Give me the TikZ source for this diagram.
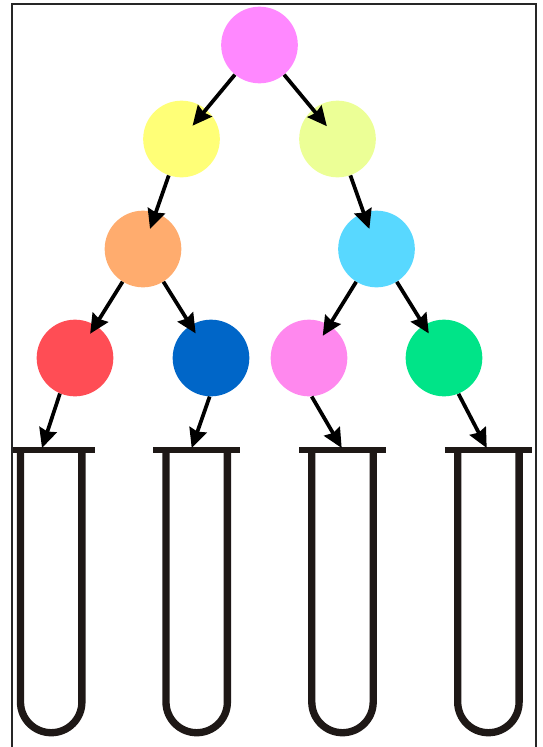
\documentclass[tikz,border=0pt]{standalone}
\usetikzlibrary{arrows.meta}
\definecolor{cTop}{RGB}{255,136,255}
\definecolor{cYel}{RGB}{255,255,119}
\definecolor{cLim}{RGB}{236,255,150}
\definecolor{cOra}{RGB}{255,172,110}
\definecolor{cCya}{RGB}{88,216,255}
\definecolor{cRed}{RGB}{255,77,85}
\definecolor{cBlu}{RGB}{0,102,200}
\definecolor{cPnk}{RGB}{255,136,238}
\definecolor{cGrn}{RGB}{0,228,136}
\definecolor{tubeclr}{RGB}{30,24,22}
\begin{document}
\begin{tikzpicture}[x=0.75pt,y=-0.75pt,
  ball/.style={circle,minimum size=57.5pt,inner sep=0pt,fill=#1},
  arr/.style={line width=2.8pt,-{Stealth[length=14.5pt 0 0,width=13.5pt 0 0,inset=1.5pt]}},
  tubewall/.style={line width=5.5pt,color=tubeclr},
  tubebar/.style={line width=5pt,color=tubeclr}]
\useasboundingbox (0,0) rectangle (543,747);
% frame
\draw[line width=1pt,color=black!85] (12,760) -- (12,4) -- (536,4) -- (536,760);
% balls
\node[ball=cTop] (top) at (259.5,45) {};
\node[ball=cYel] (yl) at (181.5,139) {};
\node[ball=cLim] (yr) at (337.5,139) {};
\node[ball=cOra] (or) at (143,249) {};
\node[ball=cCya] (cy) at (376.5,249) {};
\node[ball=cRed] (rd) at (75,358) {};
\node[ball=cBlu] (bl) at (211,358) {};
\node[ball=cPnk] (pk) at (309,358) {};
\node[ball=cGrn] (gr) at (444,358) {};
% tree arrows
\draw[arr,shorten >=-16pt] (top) -- (yl);
\draw[arr,shorten >=-16.5pt] (top) -- (yr);
\draw[arr,shorten >=-13pt] (yl) -- (or);
\draw[arr,shorten >=-13pt] (yr) -- (cy);
\draw[arr,shorten >=-7.5pt] (or) -- (rd);
\draw[arr,shorten >=-7.2pt] (or) -- (bl);
\draw[arr,shorten >=-9.4pt] (cy) -- (pk);
\draw[arr,shorten >=-7.3pt] (cy) -- (gr);
% tubes
\foreach \cx/\bl in {51.2/13.3, 196.7/153.2, 342.5/299, 488.4/444.9}{
  \draw[tubewall] (\cx-30.7,450) -- (\cx-30.7,702) arc[start angle=180,end angle=0,radius=30.7] -- (\cx+30.7,450);
  \draw[tubebar] (\bl,450) -- (\cx+43.3,450);
}
\coordinate (t1) at (42,448);
\coordinate (t2) at (191.7,448);
\coordinate (t3) at (341.7,448);
\coordinate (t4) at (486.7,448);
\draw[arr] (rd.-113) -- (t1);
\draw[arr] (bl.-92) -- (t2);
\draw[arr] (pk.-86) -- (t3);
\draw[arr] (gr.-68) -- (t4);
\end{tikzpicture}
\end{document}
